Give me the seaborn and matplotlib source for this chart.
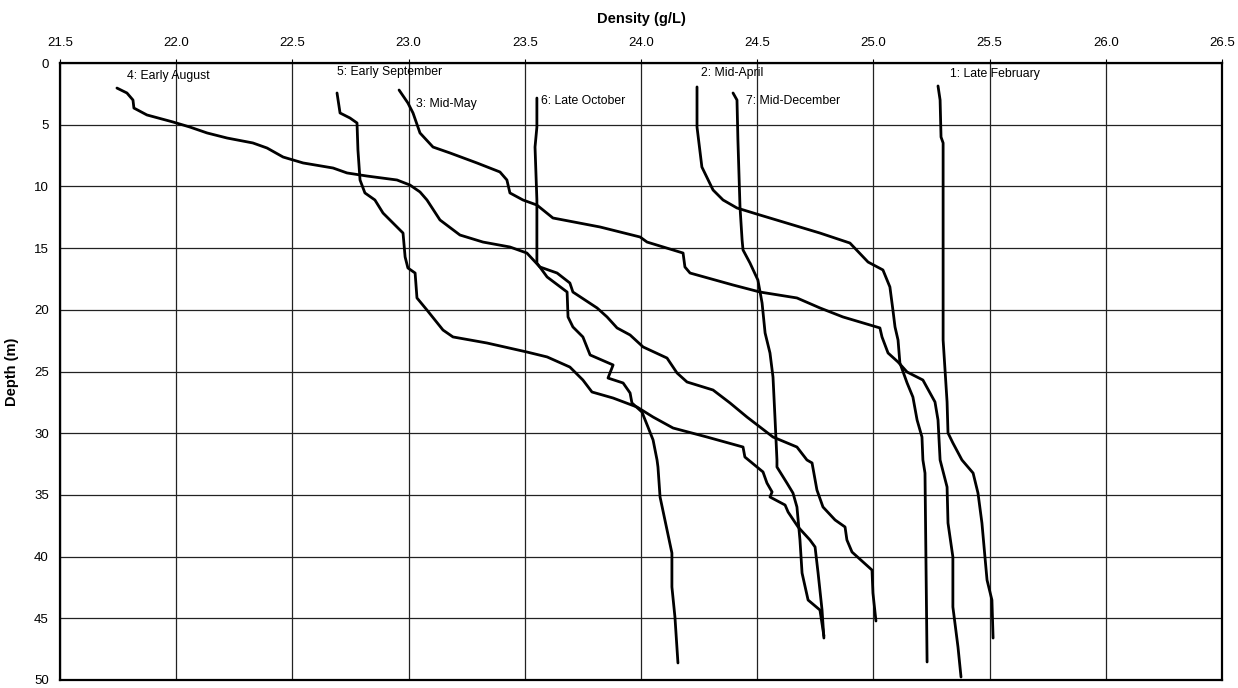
import matplotlib
matplotlib.use("Agg")
import matplotlib.pyplot as plt
import seaborn as sns
import pandas as pd

# ---- data (density g/L, depth m) ----
feb_density = [25.278, 25.287, 25.291, 25.300, 25.300, 25.300, 25.317, 25.321, 25.342, 25.381, 25.429, 25.450, 25.467, 25.480, 25.489, 25.510, 25.515]
feb_depth   = [1.86, 3.00, 6.00, 6.48, 14.34, 22.45, 27.47, 29.98, 30.79, 32.17, 33.23, 34.85, 37.28, 40.03, 41.90, 43.52, 46.60]

apr_density = [24.241, 24.241, 24.262, 24.310, 24.353, 24.413, 24.512, 24.770, 24.899, 24.977, 25.041, 25.071, 25.084, 25.093, 25.106, 25.114, 25.145, 25.170, 25.188, 25.209, 25.213, 25.222, 25.231]
apr_depth   = [1.94, 5.19, 8.43, 10.29, 11.10, 11.75, 12.32, 13.78, 14.59, 16.13, 16.77, 18.15, 20.02, 21.39, 22.45, 24.31, 25.93, 27.07, 28.93, 30.31, 32.17, 33.23, 48.54]

may_density = [22.959, 22.997, 23.019, 23.049, 23.105, 23.178, 23.294, 23.393, 23.423, 23.436, 23.492, 23.552, 23.621, 23.824, 23.996, 24.026, 24.181, 24.189, 24.211, 24.396, 24.512, 24.671, 24.770, 24.869, 25.028, 25.037, 25.063, 25.106, 25.145, 25.213, 25.265, 25.278, 25.287, 25.317, 25.321, 25.342, 25.342, 25.364, 25.377]
may_depth   = [2.19, 3.24, 4.05, 5.67, 6.81, 7.29, 8.10, 8.83, 9.48, 10.53, 11.10, 11.51, 12.56, 13.29, 14.10, 14.51, 15.40, 16.53, 17.02, 17.99, 18.56, 19.04, 19.85, 20.58, 21.47, 22.20, 23.50, 24.23, 25.04, 25.69, 27.47, 28.93, 32.17, 34.36, 37.28, 40.03, 44.08, 47.33, 49.76]

aug_density = [21.745, 21.788, 21.814, 21.818, 21.874, 21.986, 22.059, 22.133, 22.219, 22.330, 22.391, 22.460, 22.546, 22.675, 22.735, 22.821, 22.950, 23.006, 23.049, 23.079, 23.135, 23.221, 23.320, 23.436, 23.509, 23.565, 23.639, 23.694, 23.707, 23.811, 23.854, 23.897, 23.953, 24.009, 24.112, 24.155, 24.198, 24.310, 24.383, 24.456, 24.512, 24.568, 24.671, 24.714, 24.736, 24.757, 24.783, 24.835, 24.878, 24.886, 24.908, 24.994, 24.998, 25.011]
aug_depth   = [2.03, 2.43, 3.00, 3.65, 4.21, 4.78, 5.19, 5.67, 6.08, 6.48, 6.89, 7.62, 8.10, 8.51, 8.91, 9.16, 9.48, 9.89, 10.45, 11.10, 12.72, 13.94, 14.51, 14.91, 15.40, 16.53, 17.02, 17.83, 18.56, 19.85, 20.58, 21.47, 22.04, 23.01, 23.91, 25.12, 25.85, 26.50, 27.55, 28.69, 29.50, 30.31, 31.12, 32.17, 32.41, 34.60, 35.98, 37.03, 37.60, 38.65, 39.63, 41.09, 42.95, 45.22]

sep_density = [22.692, 22.705, 22.748, 22.778, 22.782, 22.791, 22.812, 22.855, 22.890, 22.976, 22.985, 22.997, 23.028, 23.036, 23.079, 23.148, 23.191, 23.337, 23.509, 23.596, 23.694, 23.750, 23.789, 23.880, 23.983, 24.052, 24.138, 24.284, 24.439, 24.447, 24.525, 24.542, 24.564, 24.555, 24.620, 24.633, 24.676, 24.727, 24.749, 24.762, 24.779, 24.787]
sep_depth   = [2.43, 4.05, 4.46, 4.86, 7.05, 9.48, 10.53, 11.10, 12.16, 13.78, 15.72, 16.61, 17.02, 19.04, 20.02, 21.64, 22.20, 22.69, 23.42, 23.82, 24.64, 25.69, 26.66, 27.15, 27.88, 28.69, 29.58, 30.31, 31.12, 31.93, 33.14, 34.04, 34.76, 35.17, 35.82, 36.39, 37.60, 38.65, 39.22, 41.33, 44.33, 46.60]

oct_density = [23.552, 23.552, 23.544, 23.552, 23.552, 23.596, 23.682, 23.686, 23.707, 23.750, 23.781, 23.880, 23.858, 23.923, 23.953, 23.961, 24.004, 24.030, 24.052, 24.069, 24.073, 24.082, 24.112, 24.133, 24.133, 24.146, 24.159]
oct_depth   = [2.84, 5.19, 6.81, 11.10, 16.21, 17.34, 18.56, 20.58, 21.39, 22.20, 23.66, 24.47, 25.53, 25.93, 26.74, 27.55, 28.28, 29.50, 30.55, 32.17, 32.74, 35.17, 37.84, 39.71, 42.46, 44.89, 48.62]

dec_density = [24.396, 24.413, 24.417, 24.426, 24.435, 24.439, 24.469, 24.503, 24.521, 24.534, 24.555, 24.568, 24.577, 24.585, 24.585, 24.628, 24.654, 24.671, 24.684, 24.693, 24.719, 24.770, 24.787]
dec_depth   = [2.43, 3.00, 6.24, 11.67, 14.34, 15.15, 16.21, 17.59, 19.45, 21.88, 23.50, 25.45, 28.93, 32.17, 32.74, 34.04, 34.85, 35.98, 38.65, 41.33, 43.52, 44.33, 46.43]

profile_names = ["1: Late February", "2: Mid-April", "3: Mid-May", "4: Early August",
                 "5: Early September", "6: Late October", "7: Mid-December"]
label_x = [25.33, 24.26, 23.03, 21.79, 22.69, 23.57, 24.45]
label_y = [0.9, 0.85, 3.3, 1.05, 0.75, 3.1, 3.1]

x_ticks = [21.5, 22.0, 22.5, 23.0, 23.5, 24.0, 24.5, 25.0, 25.5, 26.0, 26.5]
y_ticks = [0, 5, 10, 15, 20, 25, 30, 35, 40, 45, 50]

series = [(feb_density, feb_depth), (apr_density, apr_depth), (may_density, may_depth),
          (aug_density, aug_depth), (sep_density, sep_depth), (oct_density, oct_depth),
          (dec_density, dec_depth)]

frames = []
for name, (dx, dy) in zip(profile_names, series):
    frames.append(pd.DataFrame({"density": dx, "depth": dy, "profile": name}))
df = pd.concat(frames, ignore_index=True)

sns.set_style("white")
plt.rcParams["font.family"] = ["Liberation Sans", "DejaVu Sans"]
plt.rcParams["text.color"] = "black"
plt.rcParams["axes.labelcolor"] = "black"
plt.rcParams["xtick.color"] = "black"
plt.rcParams["ytick.color"] = "black"

fig = plt.figure(figsize=(12.38, 6.88), dpi=100)
ax = fig.add_axes([60 / 1238, 1 - 680 / 688, (1222 - 60) / 1238, (680 - 63) / 688])

sns.lineplot(data=df, x="density", y="depth", hue="profile", units="profile",
             palette=["black"] * 7, sort=False, estimator=None, legend=False,
             linewidth=2.0, ax=ax)

for name, lx, ly in zip(profile_names, label_x, label_y):
    ax.text(lx, ly, name, fontsize=8.8, va="center", ha="left", color="black")

ax.set_xlim(21.5, 26.5)
ax.set_ylim(50, 0)
ax.set_xticks(x_ticks)
ax.set_xticklabels([f"{v:.1f}" for v in x_ticks])
ax.set_yticks(y_ticks)
ax.xaxis.tick_top()
ax.xaxis.set_label_position("top")
ax.tick_params(axis="x", direction="out", length=3, width=0.8, pad=7, labelsize=9.5, colors="black")
ax.tick_params(axis="y", direction="out", length=4, width=0.8, pad=4, labelsize=9.5, colors="black")
ax.grid(True, color="#222222", linewidth=0.9)
for s in ax.spines.values():
    s.set_color("black")
    s.set_linewidth(1.6)
ax.set_xlabel("Density (g/L)", fontsize=10.5, fontweight="bold", labelpad=10, color="black")
ax.set_ylabel("Depth (m)", fontsize=10.5, fontweight="bold", labelpad=11, color="black")

fig.savefig("out.png", dpi=100)
